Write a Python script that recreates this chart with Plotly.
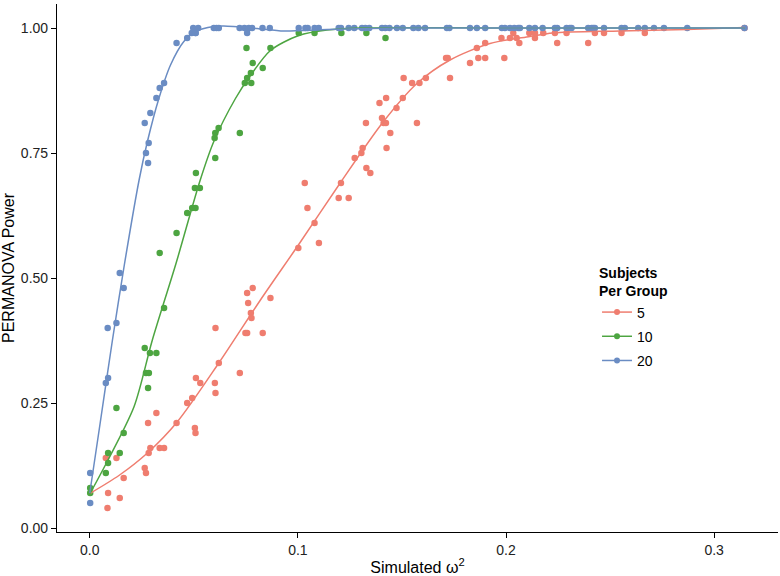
import plotly.graph_objects as go

# ---------------- data ----------------
groups = ["5", "10", "20"]
colors = {"5": "#EF7D6F", "10": "#4DA541", "20": "#6A8CC3"}

# Subjects per group = 5 (points)
x5 = [0.0085, 0.0088, 0.0144, 0.0163, 0.0077, 0.0128, 0.0264, 0.0270, 0.0283, 0.0291,
      0.0336, 0.0357, 0.0280, 0.0320, 0.0417, 0.0468, 0.0492, 0.0505, 0.0508, 0.0510,
      0.0531, 0.0601, 0.0604, 0.0620, 0.0721, 0.0604, 0.0756, 0.0783, 0.0761, 0.0774,
      0.0777, 0.0748, 0.0756, 0.0831, 0.0868, 0.1002, 0.1046, 0.1080, 0.1101, 0.1196,
      0.1244, 0.1033, 0.1207, 0.1273, 0.1305, 0.1311, 0.1329, 0.1348, 0.1327, 0.1404,
      0.1412, 0.1423, 0.1444, 0.1426, 0.1392, 0.1424, 0.1474, 0.1504, 0.1508, 0.1549,
      0.1584, 0.1615, 0.1572, 0.1712, 0.1720, 0.1731, 0.1827, 0.1860, 0.1867, 0.1900,
      0.1900, 0.1978, 0.1992, 0.2019, 0.2035, 0.2051, 0.2064, 0.2112, 0.2139, 0.2139,
      0.2179, 0.2235, 0.2246, 0.2291, 0.2395, 0.2427, 0.2471, 0.2555, 0.2667, 0.3146]
y5 = [0.04, 0.07, 0.06, 0.10, 0.14, 0.14, 0.12, 0.11, 0.15, 0.16,
      0.16, 0.16, 0.21, 0.23, 0.21, 0.25, 0.26, 0.20, 0.19, 0.30,
      0.29, 0.29, 0.27, 0.33, 0.31, 0.40, 0.47, 0.48, 0.45, 0.43,
      0.42, 0.39, 0.39, 0.39, 0.46, 0.56, 0.64, 0.61, 0.57, 0.66,
      0.66, 0.69, 0.69, 0.74, 0.75, 0.76, 0.72, 0.71, 0.81, 0.82,
      0.81, 0.81, 0.79, 0.76, 0.85, 0.86, 0.84, 0.86, 0.90, 0.89,
      0.89, 0.90, 0.81, 0.94, 0.94, 0.90, 0.93, 0.96, 0.94, 0.97,
      0.94, 0.98, 0.94, 0.98, 0.99, 0.98, 0.97, 0.99, 0.99, 0.98,
      0.99, 0.99, 0.97, 0.99, 0.97, 0.99, 0.99, 0.99, 0.99, 1.00]

# Subjects per group = 10 (points)
x10 = [0.0002, 0.0002, 0.0077, 0.0088, 0.0088, 0.0144, 0.0163, 0.0128, 0.0280, 0.0270,
       0.0284, 0.0264, 0.0289, 0.0320, 0.0357, 0.0336, 0.0417, 0.0468, 0.0492, 0.0508,
       0.0505, 0.0529, 0.0510, 0.0603, 0.0600, 0.0603, 0.0619, 0.0721, 0.0745, 0.0776,
       0.0756, 0.0774, 0.0783, 0.0753, 0.0831, 0.0868, 0.1004, 0.1080, 0.1209, 0.1329,
       0.1421]
y10 = [0.08, 0.07, 0.11, 0.13, 0.15, 0.15, 0.19, 0.24, 0.28, 0.31,
       0.31, 0.36, 0.35, 0.35, 0.44, 0.55, 0.59, 0.63, 0.64, 0.64,
       0.68, 0.68, 0.71, 0.74, 0.78, 0.79, 0.80, 0.79, 0.89, 0.89,
       0.90, 0.91, 0.93, 0.96, 0.92, 0.96, 0.99, 0.99, 0.99, 0.99,
       0.98]

# Subjects per group = 20 (points)
x20 = [0.0002, 0.0002, 0.0077, 0.0088, 0.0086, 0.0128, 0.0144, 0.0163, 0.0280, 0.0270,
       0.0283, 0.0264, 0.0291, 0.0320, 0.0336, 0.0357, 0.0417, 0.0468, 0.0490, 0.0508,
       0.0497, 0.0521, 0.0509, 0.0596, 0.0609, 0.0620, 0.0720, 0.0743, 0.0764, 0.0780,
       0.0756, 0.0830, 0.0865, 0.1004, 0.1036, 0.1047, 0.1080, 0.1100, 0.1196, 0.1207,
       0.1244, 0.1271, 0.1308, 0.1324, 0.1343, 0.1404, 0.1420, 0.1440, 0.1476, 0.1504,
       0.1555, 0.1579, 0.1611, 0.1716, 0.1728, 0.1827, 0.1860, 0.1900, 0.1980, 0.1995,
       0.2019, 0.2040, 0.2059, 0.2067, 0.2112, 0.2139, 0.2176, 0.2235, 0.2246, 0.2291,
       0.2307, 0.2315, 0.2395, 0.2411, 0.2419, 0.2427, 0.2471, 0.2555, 0.2571, 0.2635,
       0.2667, 0.2711, 0.2759, 0.2871, 0.3146]
y20 = [0.11, 0.05, 0.29, 0.30, 0.40, 0.41, 0.51, 0.48, 0.73, 0.75,
       0.77, 0.81, 0.83, 0.86, 0.88, 0.89, 0.97, 0.98, 0.99, 0.99,
       1.00, 1.00, 0.99, 1.00, 1.00, 1.00, 1.00, 1.00, 1.00, 1.00,
       0.99, 1.00, 1.00, 1.00, 1.00, 1.00, 1.00, 1.00, 1.00, 1.00,
       1.00, 1.00, 1.00, 1.00, 1.00, 1.00, 1.00, 1.00, 1.00, 1.00,
       1.00, 1.00, 1.00, 1.00, 1.00, 1.00, 1.00, 1.00, 1.00, 1.00,
       1.00, 1.00, 1.00, 1.00, 1.00, 1.00, 1.00, 1.00, 1.00, 1.00,
       1.00, 1.00, 1.00, 1.00, 1.00, 1.00, 1.00, 1.00, 1.00, 1.00,
       1.00, 1.00, 1.00, 1.00, 1.00]

# Smoothed curves
cx5 = [0.0, 0.014, 0.0277, 0.042, 0.062, 0.082, 0.1004, 0.12, 0.1404, 0.1572,
       0.1731, 0.1923, 0.2115, 0.2225, 0.2547, 0.2867, 0.3146]
cy5 = [0.069, 0.105, 0.150, 0.212, 0.330, 0.456, 0.567, 0.688, 0.809, 0.889,
       0.936, 0.969, 0.983, 0.990, 0.994, 0.997, 1.001]

cx10 = [0.0, 0.008, 0.0213, 0.030, 0.0415, 0.053, 0.0596, 0.070, 0.0772, 0.0868,
        0.1004, 0.114, 0.130, 0.200, 0.3146]
cy10 = [0.068, 0.130, 0.243, 0.375, 0.530, 0.695, 0.773, 0.859, 0.905, 0.955,
        0.985, 0.996, 1.000, 1.000, 1.000]

cx20 = [0.0, 0.005, 0.0109, 0.0166, 0.0237, 0.0277, 0.0332, 0.0388, 0.0452, 0.0508,
        0.0596, 0.0644, 0.0804, 0.0932, 0.114, 0.150, 0.200, 0.250, 0.3146]
cy20 = [0.070, 0.210, 0.376, 0.526, 0.696, 0.773, 0.859, 0.926, 0.973, 0.993,
        1.003, 1.004, 0.999, 0.994, 0.997, 1.000, 1.000, 1.000, 1.000]

points = {"5": (x5, y5), "10": (x10, y10), "20": (x20, y20)}
curves = {"5": (cx5, cy5), "10": (cx10, cy10), "20": (cx20, cy20)}

FONT = "Liberation Sans, Arial, Helvetica, sans-serif"

fig = go.Figure()

for g in groups:
    px_, py_ = points[g]
    fig.add_trace(go.Scatter(x=px_, y=py_, mode="markers", showlegend=False,
                             legendgroup=g,
                             marker=dict(color=colors[g], size=6.5, line=dict(width=0)),
                             cliponaxis=False))
for g in groups:
    cx, cy = curves[g]
    fig.add_trace(go.Scatter(x=cx, y=cy, mode="lines", showlegend=False,
                             legendgroup=g,
                             line=dict(color=colors[g], width=1.5, shape="spline", smoothing=0.8)))
for g in groups:
    fig.add_trace(go.Scatter(x=[None], y=[None], mode="lines+markers", name=g,
                             legendgroup=g,
                             line=dict(color=colors[g], width=1.5),
                             marker=dict(color=colors[g], size=6)))

fig.update_layout(
    width=780, height=576,
    margin=dict(l=57, r=2, t=4, b=44),
    paper_bgcolor="white", plot_bgcolor="white",
    font=dict(family=FONT, size=14, color="black"),
    legend=dict(
        title=dict(text="<b>Subjects<br>Per Group</b>", font=dict(size=14)),
        x=0.749, y=0.515, xanchor="left", yanchor="top",
        bgcolor="rgba(0,0,0,0)", font=dict(size=14),
        traceorder="grouped", tracegroupgap=3,
    ),
    xaxis=dict(
        range=[-0.01575, 0.3307],
        tickvals=[0, 0.1, 0.2, 0.3], tickformat=".1f",
        showgrid=False, zeroline=False,
        showline=True, linecolor="black", linewidth=1.2,
        ticks="outside", ticklen=5, tickwidth=1.2, tickcolor="black",
        tickfont=dict(size=14, color="#222"),
        title=dict(text="Simulated ω<sup>2</sup>", font=dict(size=16), standoff=4),
    ),
    yaxis=dict(
        range=[-0.008, 1.048],
        tickvals=[0, 0.25, 0.5, 0.75, 1.0], tickformat=".2f",
        showgrid=False, zeroline=False,
        showline=True, linecolor="black", linewidth=1.2,
        ticks="outside", ticklen=5, tickwidth=1.2, tickcolor="black",
        tickfont=dict(size=14, color="#222"),
        title=dict(text="PERMANOVA Power", font=dict(size=16), standoff=2),
    ),
)

fig.write_html(
    "out.html",
    config={"displayModeBar": False},
    post_script="document.body.style.margin='0';document.body.style.overflow='hidden';",
)
